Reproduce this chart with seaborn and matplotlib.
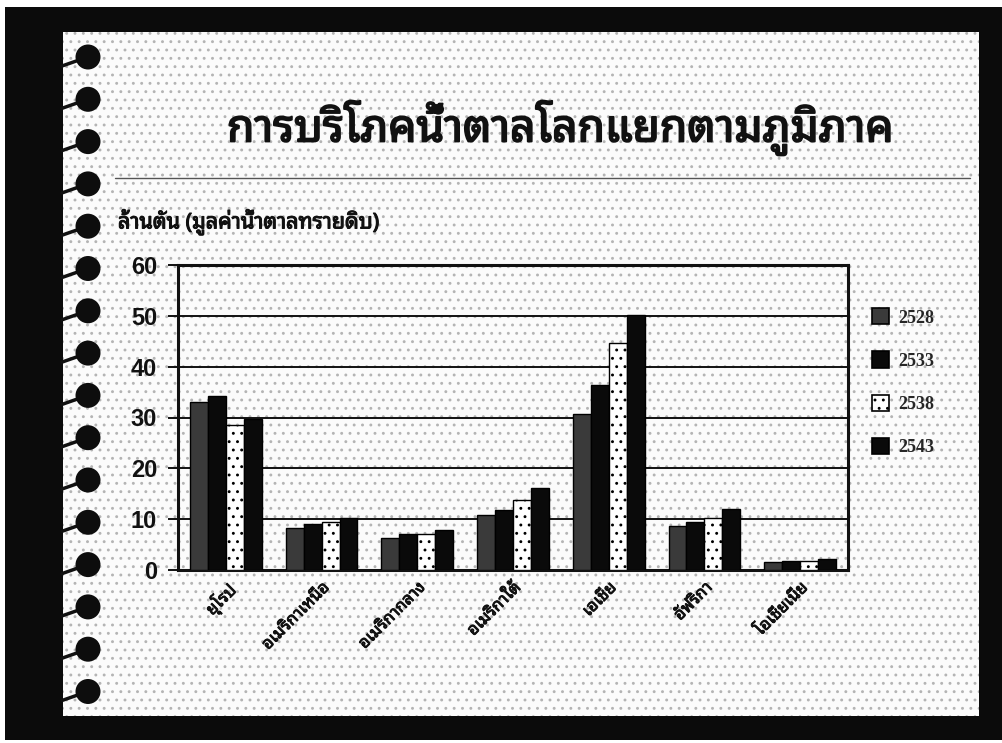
import numpy as np
import pandas as pd
import matplotlib
matplotlib.use("Agg")
import matplotlib.pyplot as plt
import matplotlib.patheffects as pe
import seaborn as sns
from matplotlib import font_manager
from matplotlib.ft2font import FT2Font
from matplotlib.patches import Rectangle, Ellipse, Patch
from matplotlib.lines import Line2D

# ---- data ----------------------------------------------------------------
regions = ["ยุโรป", "อเมริกาเหนือ", "อเมริกากลาง", "อเมริกาใต้",
           "เอเชีย", "อัฟริกา", "โอเชียเนีย"]
years = ["2528", "2533", "2538", "2543"]
v2528 = [33.0, 8.3, 6.2, 10.9, 30.6, 8.6, 1.6]
v2533 = [34.3, 9.0, 7.0, 11.8, 36.3, 9.4, 1.7]
v2538 = [28.5, 9.5, 7.0, 13.8, 44.6, 10.2, 1.8]
v2543 = [29.8, 10.3, 7.8, 16.2, 50.2, 12.0, 2.2]
yticks = [0, 10, 20, 30, 40, 50, 60]

title = "การบริโภคน้ำตาลโลกแยกตามภูมิภาค"
unit_label = "ล้านตัน (มูลค่าน้ำตาลทรายดิบ)"

series = [v2528, v2533, v2538, v2543]
df = pd.DataFrame({
    "region": np.repeat([regions], len(years), axis=0).ravel(),
    "year": np.repeat(years, len(regions)),
    "value": np.concatenate(series),
})


# ---- fonts -----------------------------------------------------------------
def thai_family():
    found = []
    for f in font_manager.fontManager.ttflist:
        try:
            cmap = FT2Font(f.fname).get_charmap()
        except Exception:
            continue
        if 0x0E01 in cmap and f.name not in found:
            found.append(f.name)
    for pref in ["Noto Sans Thai Looped", "Noto Serif Thai", "Sarabun", "Loma",
                 "Garuda", "Kinnari", "Norasi", "Noto Sans Thai", "Tlwg Typo"]:
        if pref in found:
            return pref
    return found[0] if found else "DejaVu Sans"


THAI = [thai_family(), "DejaVu Sans"]

sns.set_theme(style="white")
plt.rcParams["font.family"] = THAI
plt.rcParams["hatch.linewidth"] = 0.9

W, H = 1003, 743
fig = plt.figure(figsize=(W / 100, H / 100), dpi=100)
fig.patch.set_facecolor("white")


def fx(x):
    return x / W


def fy(y):
    return 1 - y / H


heavy = [pe.withStroke(linewidth=1.3, foreground="#111")]

# ---- scanned slide frame ---------------------------------------------------
fig.add_artist(Rectangle((fx(5), fy(740)), fx(998), 733 / H, transform=fig.transFigure,
                         facecolor="#0b0b0b", edgecolor="none", zorder=-3))
fig.add_artist(Rectangle((fx(63), fy(716)), fx(979 - 63), (716 - 32) / H,
                         transform=fig.transFigure, facecolor="#fbfbfb",
                         edgecolor="#b4b4b4", linewidth=0, hatch="..", zorder=-2))

# spiral binding holes
for i in range(16):
    yc = 57 + 42.3 * i
    fig.add_artist(Line2D([fx(62), fx(82)], [fy(yc + 9), fy(yc + 2)],
                          transform=fig.transFigure, color="#111", lw=2.5, zorder=1))
    fig.add_artist(Ellipse((fx(88), fy(yc)), 25 / W, 25 / H, transform=fig.transFigure,
                           facecolor="#0d0d0d", edgecolor="none", zorder=1))

# title and rule
fig.text(fx(561), fy(128), title, ha="center", va="center", fontsize=32,
         fontweight="bold", color="#111", family=THAI, path_effects=heavy)
fig.add_artist(Line2D([fx(115), fx(970)], [fy(178), fy(178)], transform=fig.transFigure,
                      color="#555", lw=1.0))
fig.text(fx(118), fy(222), unit_label, ha="left", va="center", fontsize=15.5,
         fontweight="bold", color="#111", family=THAI,
         path_effects=[pe.withStroke(linewidth=0.8, foreground="#111")])

# ---- chart -----------------------------------------------------------------
ax = fig.add_axes([fx(178), fy(570), fx(848 - 178), (570 - 265) / H], zorder=2)
ax.patch.set_alpha(0)

palette = {"2528": "#3a3a3a", "2533": "#0a0a0a", "2538": "#ffffff", "2543": "#0a0a0a"}
sns.barplot(data=df, x="region", y="value", hue="year", hue_order=years,
            palette=palette, saturation=1, width=0.75, edgecolor="black",
            linewidth=1.0, legend=False, ax=ax, zorder=3)

hatches = {"2538": ".."}
for yr, cont in zip(years, ax.containers):
    for bar in cont:
        if yr in hatches:
            bar.set_hatch(hatches[yr])

ax.set_ylim(0, 60)
ax.set_yticks(yticks)
ax.set_yticklabels([str(t) for t in yticks], family=["Liberation Sans", "DejaVu Sans"],
                   fontsize=17, fontweight="bold", color="#111")
ax.set_xlabel("")
ax.set_ylabel("")
ax.grid(axis="y", color="#111", lw=1.4, zorder=1)
ax.set_axisbelow(True)
ax.tick_params(axis="y", length=7, width=1.4, color="#111", pad=8, left=True)
ax.tick_params(axis="x", length=0, pad=7)
for lab in ax.get_xticklabels():
    lab.set_rotation(45)
    lab.set_ha("right")
    lab.set_rotation_mode("anchor")
    lab.set_fontsize(12)
    lab.set_fontweight("bold")
    lab.set_family(THAI)
    lab.set_color("#111")
    lab.set_path_effects([pe.withStroke(linewidth=0.7, foreground="#111")])
for sp in ax.spines.values():
    sp.set_visible(True)
    sp.set_color("#111")
    sp.set_linewidth(2.2)

# legend
handles = [Patch(facecolor=palette[y], edgecolor="black", linewidth=1.2,
                 hatch=hatches.get(y)) for y in years]
leg = fig.legend(handles, years, loc="upper left", bbox_to_anchor=(fx(856), fy(292)),
                 frameon=False, handlelength=0.95, handleheight=1.0,
                 handletextpad=0.5, labelspacing=1.38,
                 prop={"family": ["Liberation Serif", "DejaVu Serif"], "weight": "bold",
                       "size": 13})
leg.set_zorder(3)

fig.savefig("out.png", dpi=100, facecolor=fig.get_facecolor())
